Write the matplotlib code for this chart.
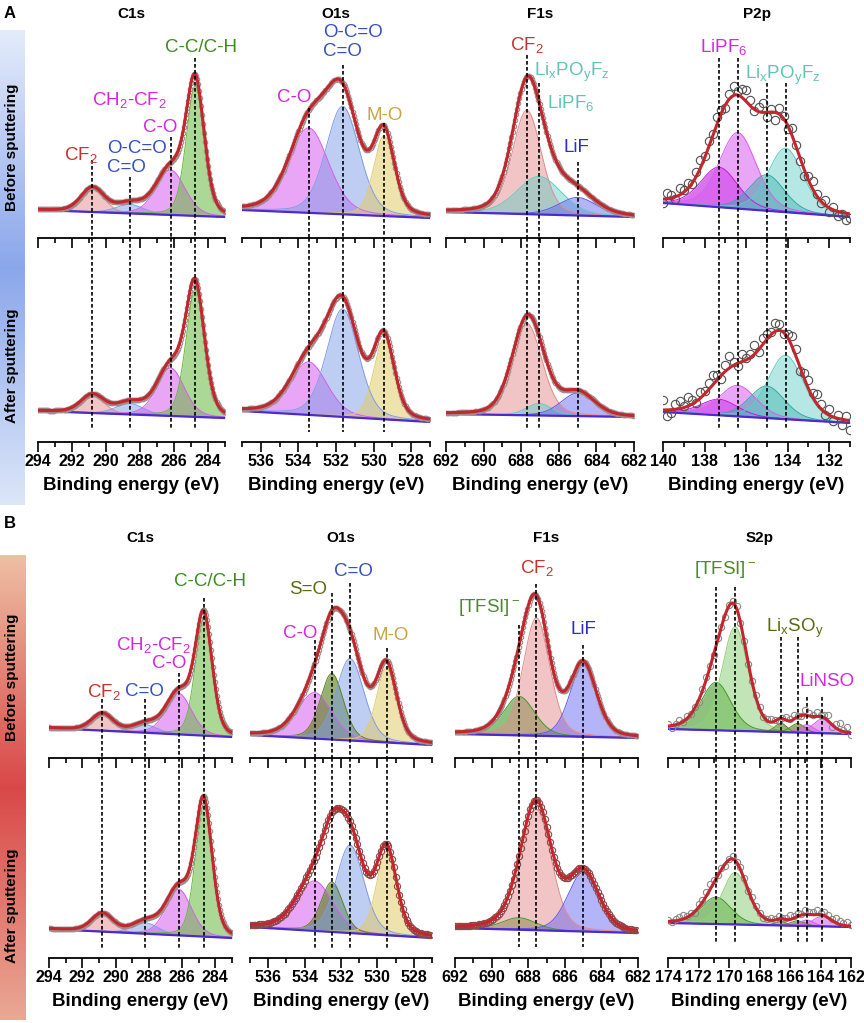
import numpy as np
import matplotlib
matplotlib.use("Agg")
import matplotlib.pyplot as plt
from matplotlib.colors import LinearSegmentedColormap

plt.rcParams['font.family'] = ['Liberation Sans', 'DejaVu Sans']
plt.rcParams['mathtext.default'] = 'regular'

# ---------------- data: peak centres (eV), heights (a.u.), FWHM (eV), background (left, right)
# panel A
a_c1s_ev = [290.8, 288.6, 286.2, 284.75]
a_c1s_before_h = [24, 9, 45, 130]
a_c1s_before_w = [1.6, 1.9, 2.0, 1.25]
a_c1s_before_bg = [28, 21]
a_c1s_after_h = [18, 11, 48, 127]
a_c1s_after_w = [1.6, 1.9, 1.9, 1.3]
a_c1s_after_bg = [31, 24]

a_o1s_ev = [533.45, 531.65, 529.45]
a_o1s_before_h = [85, 108, 80]
a_o1s_before_w = [2.5, 2.1, 1.3]
a_o1s_before_bg = [28, 20]
a_o1s_after_h = [53, 108, 80]
a_o1s_after_w = [2.3, 2.0, 1.3]
a_o1s_after_bg = [31, 20]

a_f1s_ev = [687.7, 687.05, 685.0]
a_f1s_before_h = [104, 38, 18]
a_f1s_before_w = [1.8, 2.8, 2.4]
a_f1s_before_bg = [26, 21]
a_f1s_after_h = [92, 12, 23]
a_f1s_after_w = [1.9, 1.6, 2.1]
a_f1s_after_bg = [28, 25]

a_p2p_ev = [137.3, 136.4, 135.0, 134.1]
a_p2p_before_h = [40, 76, 36, 64]
a_p2p_before_w = [2.1, 2.1, 2.0, 2.0]
a_p2p_before_bg = [35, 21]
a_p2p_before_res = [-4, 6, 3, -2, 7, 2, 5, -1, 4, 8, 2, 6, 1, 7, 3, -3, 5, 9, 4, 8, 11, 6, -2,
                    5, 9, -5, 3, -8, 6, 2, -4, 7, 1, -3, -6, 4, 8, 2, -2, 5, -4, 3, -5, -2, -7, -4]
a_p2p_after_h = [16, 31, 32, 64]
a_p2p_after_w = [2.1, 2.1, 2.0, 2.0]
a_p2p_after_bg = [30, 19]
a_p2p_after_res = [10, -6, -3, 5, 8, 2, 9, 4, -2, 6, 3, 7, 10, 5, -4, 6, 12, 3, -3, 8, 2, 4, 9,
                   -2, 7, 5, 3, 8, 6, -2, 4, 10, 7, -3, 6, 9, 4, 10, 5, -2, 6, -4, 3, -6, 4, -9]

# panel B
b_c1s_ev = [290.8, 288.2, 286.2, 284.7]
b_c1s_before_h = [17, 8, 41, 118]
b_c1s_before_w = [1.5, 1.7, 1.8, 1.2]
b_c1s_before_bg = [30, 21]
b_c1s_after_h = [18, 11, 46, 132]
b_c1s_after_w = [1.5, 1.8, 1.8, 1.2]
b_c1s_after_bg = [29, 20]

b_o1s_ev = [533.45, 532.5, 531.5, 529.5]
b_o1s_before_h = [46, 66, 82, 75]
b_o1s_before_w = [2.2, 1.5, 1.8, 1.3]
b_o1s_before_bg = [23, 13]
b_o1s_after_h = [50, 50, 88, 84]
b_o1s_after_w = [2.3, 1.4, 1.8, 1.3]
b_o1s_after_bg = [31, 20]

b_f1s_ev = [688.5, 687.55, 685.0]
b_f1s_before_h = [39, 118, 72]
b_f1s_before_w = [2.0, 1.7, 1.7]
b_f1s_before_bg = [24, 20]
b_f1s_after_h = [12, 121, 59]
b_f1s_after_w = [2.2, 1.9, 2.0]
b_f1s_after_bg = [30, 25]

b_s2p_ev = [170.85, 169.6, 166.6, 165.5, 164.9, 163.9]
b_s2p_before_h = [48, 104, 9, 9, 8, 14]
b_s2p_before_w = [2.3, 2.0, 0.9, 1.1, 1.1, 1.4]
b_s2p_before_bg = [29, 24]
b_s2p_before_res = [2, -2, 1, 3, -1, 2, 0, 1, -2, 2, 3, 1, -1, 2, 0, -2, 1, 2, 3, -1, 1, -2, 0, 2, 1,
                    -1, 2, 3, 1, -2, 0, 3, 2, 4, 1, -1, 5, 3, 2, 4, 1, 3, 6, -2, 4, 7, 2, 5, -2]
b_s2p_after_h = [27, 52, 4, 5, 6, 10]
b_s2p_after_w = [2.3, 2.0, 0.9, 1.1, 1.1, 1.4]
b_s2p_after_bg = [35, 31]
b_s2p_after_res = [1, -1, 2, 3, 4, 1, 2, -1, 3, 2, 4, 6, 3, 1, 2, -2, 1, 3, 0, 2, 1, -1, 2, 1, 0,
                   -1, 1, 2, 1, 3, 1, 2, 4, 2, 3, 1, 4, 2, 3, 5, 2, 4, 3, 1, 5, 3, 2, 4, 1]

# ---------------- styles
FILL = {'red': '#e58c8c', 'blue': '#7f9de6', 'mag': '#d95df0', 'green': '#66b83e',
        'gold': '#e2cc6a', 'teal': '#5ccdc4', 'teal2': '#3aa6a6', 'mag2': '#c218e0',
        'lif': '#5a5af0', 'olive': '#5f8424', 'dkgreen': '#449a2a', 'ltgreen': '#8fd07a'}
ALPHA = {'red': 0.5, 'blue': 0.5, 'mag': 0.55, 'green': 0.55, 'gold': 0.55, 'teal': 0.45,
         'teal2': 0.5, 'mag2': 0.6, 'lif': 0.45, 'olive': 0.65, 'dkgreen': 0.6, 'ltgreen': 0.55}
TXT = {'red': '#c8332f', 'blue': '#3550c4', 'mag': '#d428e0', 'green': '#3d8c1e',
       'gold': '#c9a443', 'teal': '#62c3b8', 'lif': '#2d2bd2', 'olive': '#5c6a12',
       'tfsi': '#4a8c2a'}
ENV_COLOR = '#c1272d'
BASE_COLOR = '#4b2bd0'
DASH = (0, (2.2, 1.4))

FIG_W, FIG_H = 864, 1023
fig = plt.figure(figsize=(FIG_W / 100, FIG_H / 100), dpi=100)


def pv(x, c, h, w, eta=0.25):
    d = 4 * ((x - c) / w) ** 2
    return h * ((1 - eta) * np.exp(-np.log(2) * d) + eta / (1 + d))


def model(x, xlim, ev, h, w, bg):
    frac = (xlim[0] - x) / (xlim[0] - xlim[1])
    base = bg[0] + (bg[1] - bg[0]) * frac
    comps = [pv(x, c, hh, ww) for c, hh, ww in zip(ev, h, w)]
    return base, comps


def px_axes(x0, x1, y_top, y_bot):
    return fig.add_axes([x0 / FIG_W, 1 - y_bot / FIG_H, (x1 - x0) / FIG_W, (y_bot - y_top) / FIG_H])


def setup(ax, xlim, height, show_labels):
    ax.set_xlim(*xlim)
    ax.set_ylim(0, height)
    ax.patch.set_alpha(0)
    for s in ['left', 'right', 'top']:
        ax.spines[s].set_visible(False)
    ax.spines['bottom'].set_linewidth(1.3)
    ax.set_yticks([])
    lo, hi = int(np.ceil(xlim[1])), int(np.floor(xlim[0]))
    majors = [t for t in range(lo, hi + 1) if t % 2 == 0]
    minors = [t for t in range(lo, hi + 1) if t % 2 == 1]
    ax.set_xticks(majors, labels=[str(t) for t in majors], fontsize=11.5, fontweight='bold')
    ax.set_xticks(minors, minor=True)
    ax.tick_params(axis='x', which='major', direction='out', length=7, width=1.2, pad=1.5,
                   labelbottom=show_labels)
    ax.tick_params(axis='x', which='minor', direction='out', length=3.5, width=1.2)
    if show_labels:
        ax.set_xlabel('Binding energy (eV)', fontsize=13.5, fontweight='bold', labelpad=6)


def draw_spec(ax, xlim, ev, h, w, bg, cols, res=None, step=0.06, ms=3.2, mec='#a08c8c'):
    x = np.linspace(xlim[0], xlim[1], 800)
    base, comps = model(x, xlim, ev, h, w, bg)
    for comp, col in zip(comps, cols):
        ax.fill_between(x, base, base + comp, color=FILL[col], alpha=ALPHA[col], lw=0, zorder=1)
        ax.plot(x, base + comp, color=FILL[col], lw=0.7, zorder=2)
    ax.plot(x, base, color=BASE_COLOR, lw=1.6, zorder=3)
    if res is None:
        xs = np.arange(xlim[0], xlim[1], -step)
        extra = 0
    else:
        xs = np.linspace(xlim[0], xlim[1], len(res))
        extra = np.array(res)
    b2, c2 = model(xs, xlim, ev, h, w, bg)
    ax.plot(xs, b2 + np.sum(c2, axis=0) + extra, 'o', mfc='none', mec=mec, ms=ms, mew=0.8, zorder=4)
    ax.plot(x, base + np.sum(comps, axis=0), color=ENV_COLOR, lw=2.2, zorder=5)


def dashes(ax, ev, y_from, y_to):
    for c, y0, y1 in zip(ev, y_from, y_to):
        ax.plot([c, c], [y0, y1], ls=DASH, color='k', lw=1.2, zorder=6, clip_on=False)


def labels(ax, items):
    for txt, x, y, col, ha in items:
        ax.text(x, y, txt, color=TXT[col], fontsize=13.5, ha=ha, va='center', zorder=7,
                clip_on=False)


# ---------------- layout (pixel boxes)
cols_a = [(38, 225), (242, 430), (446, 634), (663, 850)]
cols_b = [(49, 232), (250, 432), (455, 638), (668, 851)]
rows_a = [(34, 238), (238, 442)]
rows_b = [(558, 758), (758, 958)]

panels = [
    dict(col=cols_a[0], rows=rows_a, xlim=(294, 283), ev=a_c1s_ev, cols=['red', 'blue', 'mag', 'green'],
         before=(a_c1s_before_h, a_c1s_before_w, a_c1s_before_bg, None),
         after=(a_c1s_after_h, a_c1s_after_w, a_c1s_after_bg, None),
         lab=[('CF$_2$', 291.5, 83, 'red', 'center'), ('O-C=O\nC=O', 289.94, 80, 'blue', 'left'),
              ('CH$_2$-CF$_2$', 288.6, 138, 'mag', 'center'), ('C-O', 286.8, 111, 'mag', 'center'),
              ('C-C/C-H', 284.4, 191, 'green', 'center')],
         top=[78, 61, 101, 180], bot=12, title='C1s', mk=dict()),
    dict(col=cols_a[1], rows=rows_a, xlim=(537, 527), ev=a_o1s_ev, cols=['mag', 'blue', 'gold'],
         before=(a_o1s_before_h, a_o1s_before_w, a_o1s_before_bg, None),
         after=(a_o1s_after_h, a_o1s_after_w, a_o1s_after_bg, None),
         lab=[('O-C=O\nC=O', 532.7, 196, 'blue', 'left'), ('C-O', 534.25, 141, 'mag', 'center'),
              ('M-O', 529.4, 123, 'gold', 'center')],
         top=[130, 173, 115], bot=10, title='O1s', mk=dict()),
    dict(col=cols_a[2], rows=rows_a, xlim=(692, 682), ev=a_f1s_ev, cols=['red', 'teal', 'lif'],
         before=(a_f1s_before_h, a_f1s_before_w, a_f1s_before_bg, None),
         after=(a_f1s_after_h, a_f1s_after_w, a_f1s_after_bg, None),
         lab=[('CF$_2$', 687.7, 193, 'red', 'center'),
              ('Li$_x$PO$_y$F$_z$', 687.3, 166, 'teal', 'left'),
              ('LiPF$_6$', 686.65, 135, 'teal', 'left'), ('LiF', 685.05, 90, 'lif', 'center')],
         top=[183, 155, 76], bot=12, title='F1s', mk=dict()),
    dict(col=cols_a[3], rows=rows_a, xlim=(140, 131), ev=a_p2p_ev, cols=['mag2', 'mag', 'teal2', 'teal'],
         before=(a_p2p_before_h, a_p2p_before_w, a_p2p_before_bg, a_p2p_before_res),
         after=(a_p2p_after_h, a_p2p_after_w, a_p2p_after_bg, a_p2p_after_res),
         lab=[('LiPF$_6$', 137.1, 191, 'mag', 'center'),
              ('Li$_x$PO$_y$F$_z$', 134.24, 163, 'teal', 'center')],
         top=[180, 180, 155, 155], bot=13, title='P2p', mk=dict(ms=6, mec='#505050')),
    dict(col=cols_b[0], rows=rows_b, xlim=(294, 283), ev=b_c1s_ev, cols=['red', 'blue', 'mag', 'green'],
         before=(b_c1s_before_h, b_c1s_before_w, b_c1s_before_bg, None),
         after=(b_c1s_after_h, b_c1s_after_w, b_c1s_after_bg, None),
         lab=[('CF$_2$', 290.7, 66, 'red', 'center'), ('C=O', 288.27, 67, 'blue', 'center'),
              ('CH$_2$-CF$_2$', 287.74, 113, 'mag', 'center'), ('C-O', 286.8, 94, 'mag', 'center'),
              ('C-C/C-H', 284.3, 176, 'green', 'center')],
         top=[59, 59, 85, 160], bot=10, title='C1s', mk=dict()),
    dict(col=cols_b[1], rows=rows_b, xlim=(537, 527), ev=b_o1s_ev, cols=['mag', 'olive', 'blue', 'gold'],
         before=(b_o1s_before_h, b_o1s_before_w, b_o1s_before_bg, None),
         after=(b_o1s_after_h, b_o1s_after_w, b_o1s_after_bg, None),
         lab=[('C-O', 534.22, 125, 'mag', 'center'), ('S=O', 533.78, 169, 'olive', 'center'),
              ('C=O', 531.33, 186, 'blue', 'center'), ('M-O', 529.25, 122, 'gold', 'center')],
         top=[118, 165, 175, 110], bot=10, title='O1s', mk=dict(), mk_after=dict(ms=4.5, mec='#8a4a4a', step=0.1)),
    dict(col=cols_b[2], rows=rows_b, xlim=(692, 682), ev=b_f1s_ev, cols=['dkgreen', 'red', 'lif'],
         before=(b_f1s_before_h, b_f1s_before_w, b_f1s_before_bg, None),
         after=(b_f1s_after_h, b_f1s_after_w, b_f1s_after_bg, None),
         lab=[('CF$_2$', 687.54, 190, 'red', 'center'), ('[TFSI]$^-$', 690.1, 151, 'tfsi', 'center'),
              ('LiF', 685.0, 129, 'lif', 'center')],
         top=[133, 174, 113], bot=11, title='F1s', mk=dict(), mk_after=dict(ms=4.5, mec='#8a4a4a', step=0.1)),
    dict(col=cols_b[3], rows=rows_b, xlim=(174, 162), ev=b_s2p_ev,
         cols=['dkgreen', 'ltgreen', 'olive', 'olive', 'mag', 'mag'],
         before=(b_s2p_before_h, b_s2p_before_w, b_s2p_before_bg, b_s2p_before_res),
         after=(b_s2p_after_h, b_s2p_after_w, b_s2p_after_bg, b_s2p_after_res),
         lab=[('[TFSI]$^-$', 170.26, 188, 'tfsi', 'center'),
              ('Li$_x$SO$_y$', 165.67, 130, 'olive', 'center'), ('LiNSO', 163.6, 76, 'mag', 'center')],
         top=[171, 171, 121, 121, 61, 61], bot=15, title='S2p', mk=dict(ms=4.5, mec='#8a8a8a')),
]

for p in panels:
    x0, x1 = p['col']
    (t0, t1), (b0, b1) = p['rows']
    ax_t = px_axes(x0, x1, t0, t1)
    ax_b = px_axes(x0, x1, b0, b1)
    setup(ax_t, p['xlim'], t1 - t0, False)
    setup(ax_b, p['xlim'], b1 - b0, True)
    h, w, bg, res = p['before']
    draw_spec(ax_t, p['xlim'], p['ev'], h, w, bg, p['cols'], res, **p['mk'])
    h, w, bg, res = p['after']
    draw_spec(ax_b, p['xlim'], p['ev'], h, w, bg, p['cols'], res, **p.get('mk_after', p['mk']))
    dashes(ax_t, p['ev'], p['top'], [0] * len(p['ev']))
    dashes(ax_b, p['ev'], [b1 - b0] * len(p['ev']), [p['bot']] * len(p['ev']))
    labels(ax_t, p['lab'])
    fig.text((x0 + x1) / 2 / FIG_W, 1 - (t0 - 20) / FIG_H, p['title'], fontsize=11,
             fontweight='bold', ha='center', va='center')


# ---------------- side bars and panel letters
def side_bar(y0, y1, colors, w=25):
    bax = fig.add_axes([0, 1 - y1 / FIG_H, w / FIG_W, (y1 - y0) / FIG_H])
    cmap = LinearSegmentedColormap.from_list('bar', colors)
    bax.imshow(np.linspace(0, 1, 256)[:, None], aspect='auto', cmap=cmap, extent=[0, 1, 0, 1])
    bax.axis('off')


side_bar(30, 505, ['#e4ecfb', '#8ba7eb', '#dce6f9'])
side_bar(555, 1020, ['#eebfa3', '#d94848', '#eaa894'], w=26)
for txt, y in [('Before sputtering', 147), ('After sputtering', 366),
               ('Before sputtering', 677), ('After sputtering', 906)]:
    fig.text(12.5 / FIG_W, 1 - y / FIG_H, txt, rotation=90, fontsize=11, fontweight='bold',
             ha='center', va='center')
fig.text(10 / FIG_W, 1 - 14 / FIG_H, 'A', fontsize=12, fontweight='bold', ha='center', va='center')
fig.text(10 / FIG_W, 1 - 524 / FIG_H, 'B', fontsize=12, fontweight='bold', ha='center', va='center')

fig.savefig('out.png', dpi=100)
